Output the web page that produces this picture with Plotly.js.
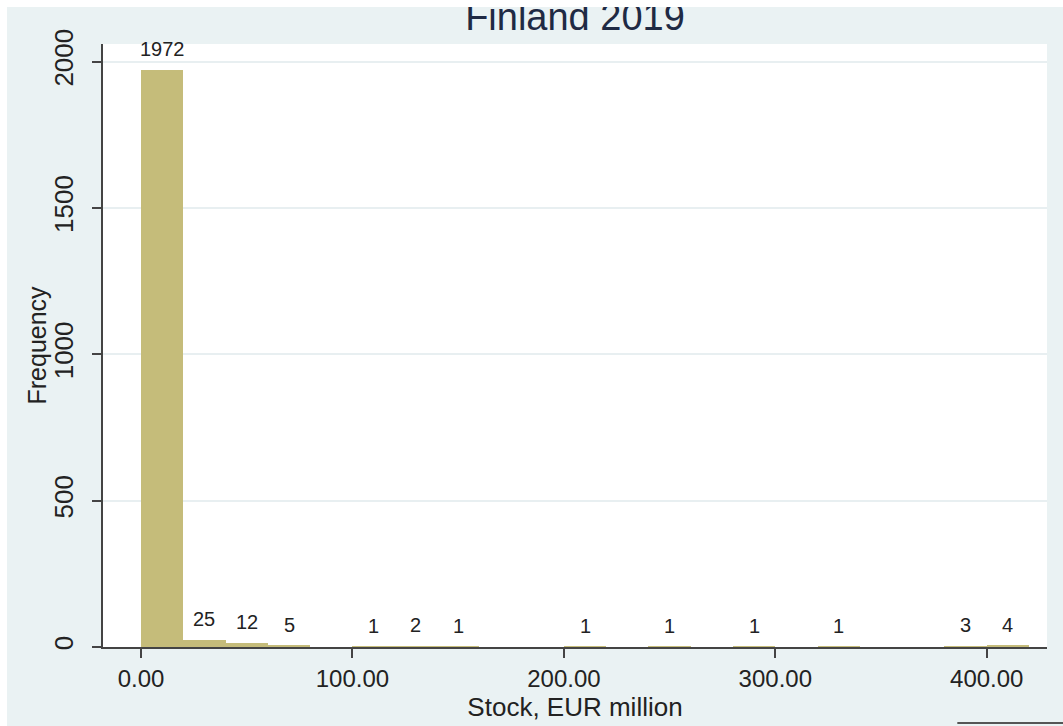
<!DOCTYPE html>
<html>
<head>
<meta charset="utf-8">
<script src="https://cdn.plot.ly/plotly-3.0.1.min.js"></script>
<style>
  html, body { margin: 0; padding: 0; background: #ffffff; }
  #chart { position: absolute; left: 7px; top: 7px; width: 1056px; height: 719px; }
</style>
</head>
<body>
<div id="chart"></div>
<script>
// Histogram bins (width 20, EUR million) and their frequencies
var binCenters = [10, 30, 50, 70, 110, 130, 150, 210, 250, 290, 330, 390, 410];
var binCounts  = [1972, 25, 12, 5, 1, 2, 1, 1, 1, 1, 1, 3, 4];
var binWidth = 20;
var xTickVals = [0, 100, 200, 300, 400];
var xTickText = ['0.00', '100.00', '200.00', '300.00', '400.00'];
var yTickVals = [0, 500, 1000, 1500, 2000];
var yTickText = ['0', '500', '1000', '1500', '2000'];

var FONT = 'Arial, "Liberation Sans", sans-serif';

var trace = {
  type: 'bar',
  x: binCenters,
  y: binCounts,
  width: binCenters.map(function () { return binWidth; }),
  marker: { color: '#c5bc7a', line: { width: 0 } },
  hoverinfo: 'x+y'
};

var annotations = binCenters.map(function (c, i) {
  return {
    x: c, y: binCounts[i], xref: 'x', yref: 'y',
    text: String(binCounts[i]), showarrow: false,
    yanchor: 'bottom', yshift: 8,
    font: { family: FONT, size: 20, color: '#222222' }
  };
});

annotations.push({
  text: 'Frequency', xref: 'paper', yref: 'paper', x: 0, y: 0.5,
  xanchor: 'center', yanchor: 'middle', xshift: -67, textangle: -90,
  showarrow: false, font: { family: FONT, size: 25, color: '#222222' }
});

var layout = {
  paper_bgcolor: '#eaf2f3',
  plot_bgcolor: '#ffffff',
  margin: { l: 96, r: 16, t: 37, b: 79 },
  showlegend: false,
  bargap: 0,
  title: {
    text: 'Finland 2019',
    font: { family: FONT, size: 38, color: '#1f2a44' },
    x: 0.5, xref: 'paper', xanchor: 'center',
    y: 1 - 23 / 719, yref: 'container', yanchor: 'bottom'
  },
  xaxis: {
    range: [-18, 428.5],
    tickvals: xTickVals, ticktext: xTickText,
    ticks: 'outside', ticklen: 9, tickwidth: 1.5, tickcolor: '#444444',
    showline: true, linecolor: '#444444', linewidth: 1.5,
    showgrid: false, zeroline: false,
    tickfont: { family: FONT, size: 24, color: '#222222' },
    title: { text: 'Stock, EUR million', font: { family: FONT, size: 26, color: '#222222' }, standoff: 0 }
  },
  yaxis: {
    range: [0, 2060],
    tickvals: yTickVals, ticktext: yTickText, tickangle: -90,
    ticks: 'outside', ticklen: 9, tickwidth: 1.5, tickcolor: '#444444',
    ticklabelstandoff: 9,
    showline: true, linecolor: '#444444', linewidth: 1.5,
    showgrid: true, gridcolor: '#e8eff1', gridwidth: 2, zeroline: false,
    tickfont: { family: FONT, size: 26, color: '#222222' }
  },
  annotations: annotations,
  shapes: [{
    type: 'line', xref: 'paper', yref: 'paper',
    x0: 0.905, x1: 1.02, y0: -0.126, y1: -0.126,
    line: { color: '#555555', width: 2 }
  }]
};

Plotly.newPlot('chart', [trace], layout, { displayModeBar: false, responsive: false });
</script>
</body>
</html>
